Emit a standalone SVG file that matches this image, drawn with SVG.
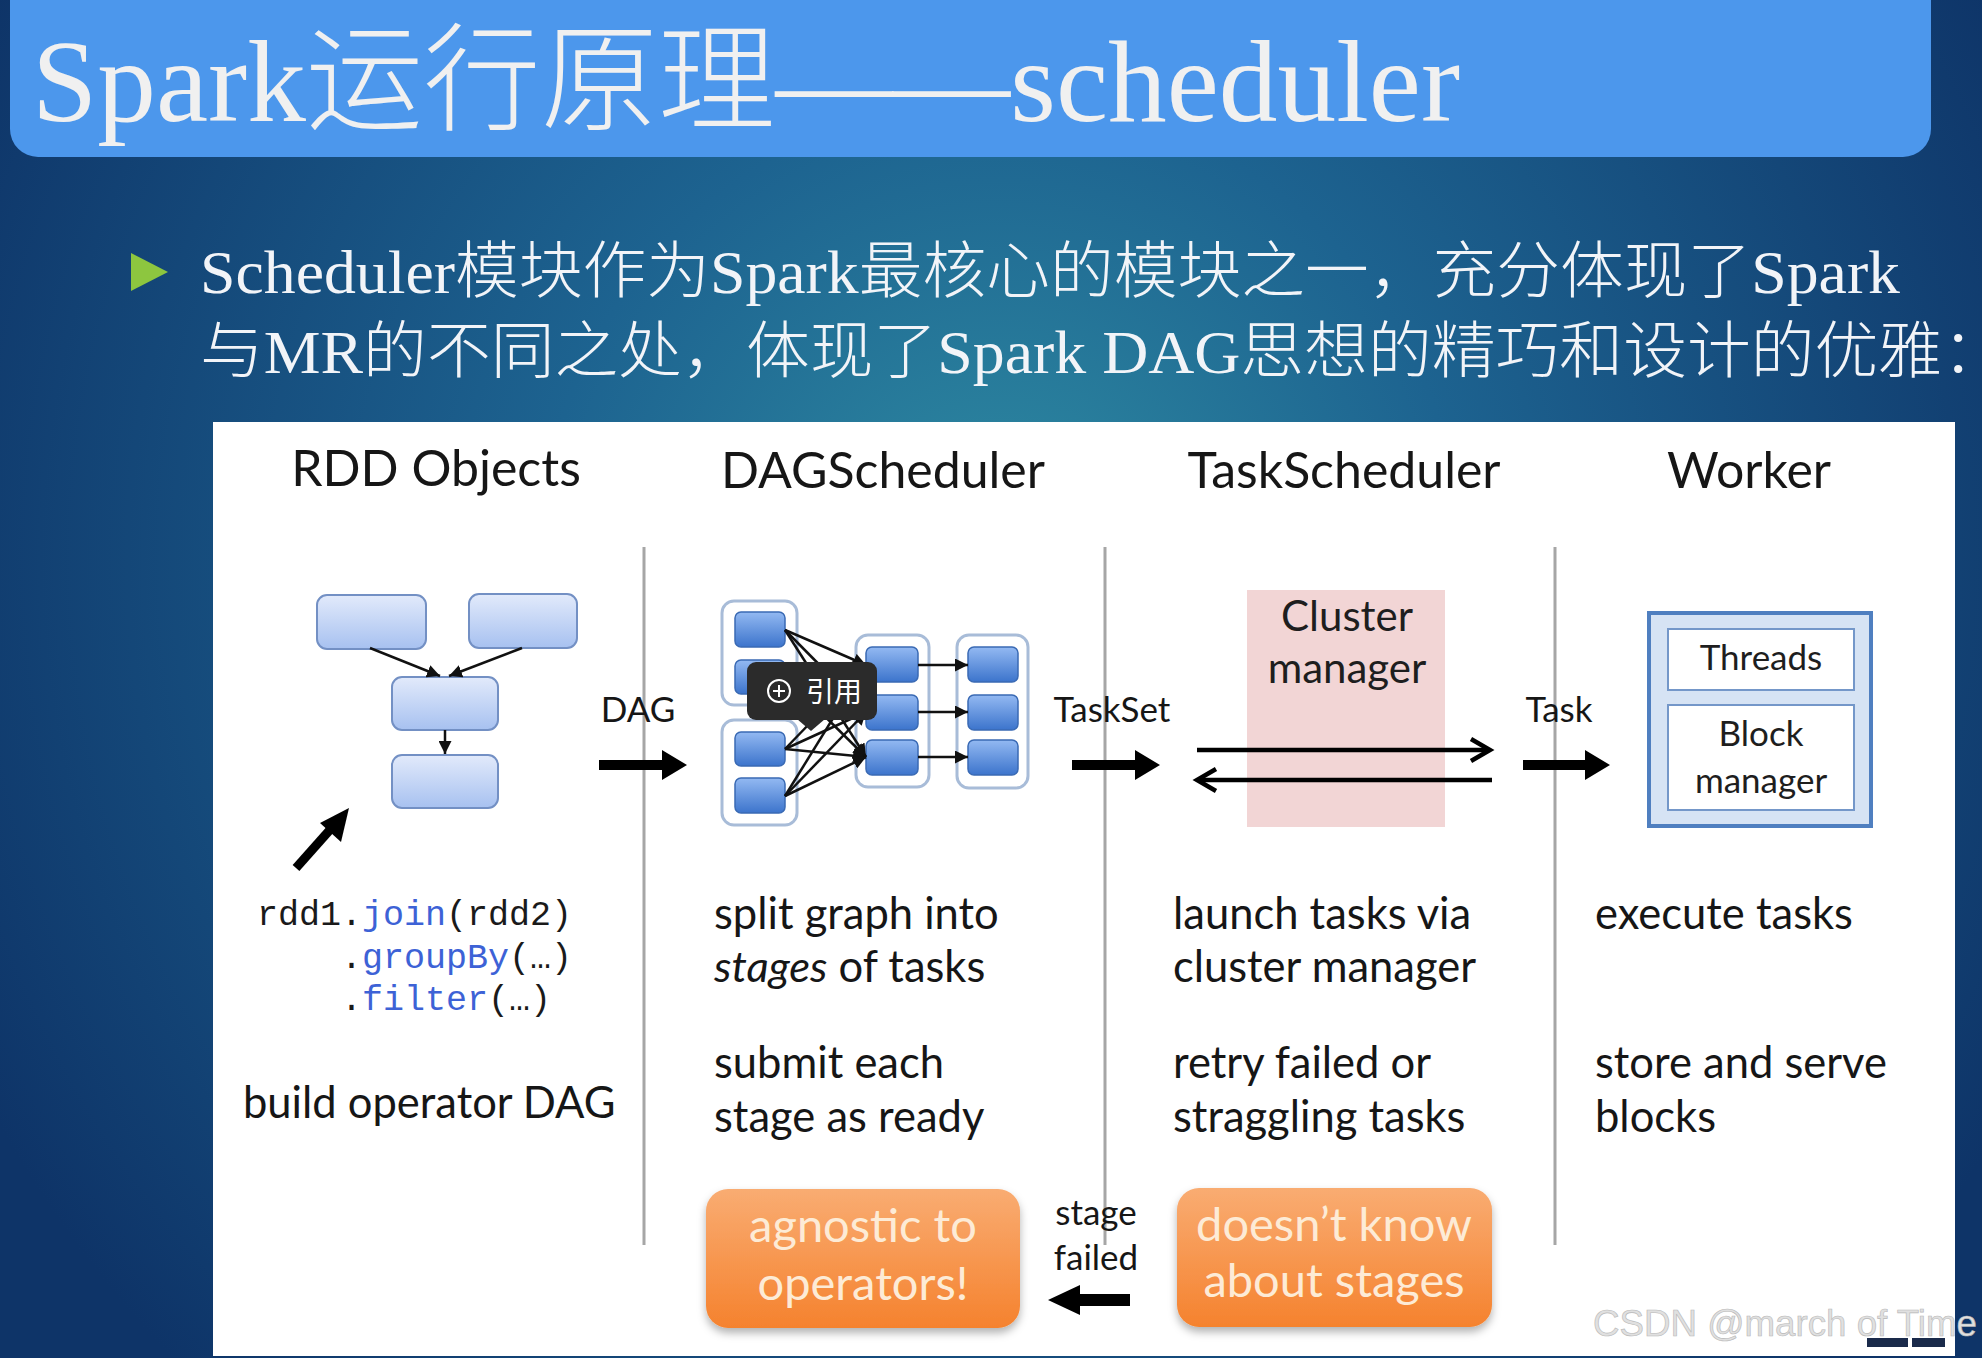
<svg xmlns="http://www.w3.org/2000/svg" width="1982" height="1358" viewBox="0 0 1982 1358">
<defs>
  <radialGradient id="bg" cx="1000" cy="560" r="1150" gradientUnits="userSpaceOnUse">
    <stop offset="0" stop-color="#2E8BA2"/>
    <stop offset="0.4" stop-color="#1D6390"/>
    <stop offset="1" stop-color="#0E3468"/>
  </radialGradient>
  <linearGradient id="rddFill" x1="0" y1="0" x2="0" y2="1">
    <stop offset="0" stop-color="#E2EAFB"/>
    <stop offset="1" stop-color="#A7C1F0"/>
  </linearGradient>
  <linearGradient id="taskFill" x1="0" y1="0" x2="0" y2="1">
    <stop offset="0" stop-color="#93B9F2"/>
    <stop offset="1" stop-color="#3C74CC"/>
  </linearGradient>
  <linearGradient id="orange" x1="0" y1="0" x2="0" y2="1">
    <stop offset="0" stop-color="#F9AC72"/>
    <stop offset="1" stop-color="#F5822E"/>
  </linearGradient>
  <filter id="shadow" x="-10%" y="-10%" width="120%" height="130%">
    <feDropShadow dx="0" dy="5" stdDeviation="4" flood-color="#000" flood-opacity="0.3"/>
  </filter>
  <marker id="ah" viewBox="0 0 10 10" refX="10" refY="5" markerWidth="13" markerHeight="13" markerUnits="userSpaceOnUse" orient="auto">
    <path d="M0,0 L10,5 L0,10 z" fill="#111"/>
  </marker>
</defs>
<style>
  .hdr { font-family: Lato, "Open Sans", sans-serif; font-size: 50px; fill: #161616; text-anchor: middle; }
  .desc { font-family: Lato, "Open Sans", sans-serif; font-size: 43.5px; fill: #161616; }
  .lbl { font-family: Lato, "Open Sans", sans-serif; font-size: 35px; fill: #161616; text-anchor: middle; }
  .inbox { font-family: Lato, "Open Sans", sans-serif; fill: #1E1E1E; text-anchor: middle; }
  .otxt { font-family: Lato, "Open Sans", sans-serif; font-size: 47px; fill: #FDEBD6; text-anchor: middle; }
  .code { font-family: "Liberation Mono", "DejaVu Sans Mono", monospace; font-size: 35px; fill: #1A1A1A; }
  .kw { fill: #3D62D6; }
  .rdd { fill: url(#rddFill); stroke: #7390C4; stroke-width: 2; }
  .task { fill: url(#taskFill); stroke: #3A6AB4; stroke-width: 1.5; }
  .cont { fill: #FFFFFF; stroke: #A8BCD8; stroke-width: 3; }
  .thin { stroke: #111; stroke-width: 2.5; fill: none; marker-end: url(#ah); }
  .thick { fill: #000; }
  .div { stroke: #A6A6A6; stroke-width: 3; }
  .serif { font-family: "Liberation Serif", "Noto Sans CJK SC", serif; }
  .cjk { font-family: "Noto Sans CJK SC", sans-serif; font-weight: 300; }
</style>

<rect x="0" y="0" width="1982" height="1358" fill="url(#bg)"/>

<g id="title">
  <rect x="10" y="-40" width="1921" height="197" rx="28" fill="#4C97EC"/>
  <text class="serif" x="32" y="121" font-size="117" fill="#F0F0F0" textLength="1428" lengthAdjust="spacingAndGlyphs">Spark<tspan class="cjk">运行原理</tspan>——scheduler</text>
</g>

<g id="bullet">
  <polygon points="131,253 168,272 131,291" fill="#8DC63F"/>
  <text class="serif" x="200" y="293" font-size="62" fill="#F2F4F8" textLength="1700" lengthAdjust="spacingAndGlyphs">Scheduler<tspan class="cjk">模块作为</tspan>Spark<tspan class="cjk">最核心的模块之一，充分体现了</tspan>Spark</text>
  <text class="serif" x="200" y="373" font-size="62" fill="#F2F4F8" textLength="1806" lengthAdjust="spacingAndGlyphs"><tspan class="cjk">与</tspan>MR<tspan class="cjk">的不同之处，体现了</tspan>Spark DAG<tspan class="cjk">思想的精巧和设计的优雅：</tspan></text>
</g>

<g id="panel">
  <rect x="213" y="422" width="1742" height="934" fill="#FFFFFF"/>
</g>

<g id="headers">
  <text class="hdr" x="436" y="486">RDD Objects</text>
  <text class="hdr" x="883" y="488">DAGScheduler</text>
  <text class="hdr" x="1344" y="488">TaskScheduler</text>
  <text class="hdr" x="1749" y="488">Worker</text>
</g>

<g id="dividers">
  <line class="div" x1="644" y1="547" x2="644" y2="1245"/>
  <line class="div" x1="1105" y1="547" x2="1105" y2="1245"/>
  <line class="div" x1="1555" y1="547" x2="1555" y2="1245"/>
</g>

<g id="rdd-objects">
  <rect class="rdd" x="317" y="595" width="109" height="54" rx="10"/>
  <rect class="rdd" x="469" y="594" width="108" height="54" rx="10"/>
  <rect class="rdd" x="392" y="677" width="106" height="53" rx="10"/>
  <rect class="rdd" x="392" y="755" width="106" height="53" rx="10"/>
  <text class="code" x="257" y="925">rdd1.<tspan class="kw">join</tspan>(rdd2)</text>
  <text class="code" x="341" y="968">.<tspan class="kw">groupBy</tspan>(…)</text>
  <text class="code" x="341" y="1010">.<tspan class="kw">filter</tspan>(…)</text>
  <text class="desc" x="243" y="1118">build operator DAG</text>
</g>

<g id="dag-scheduler">
  <rect class="cont" x="722" y="601" width="75" height="104" rx="12"/>
  <rect class="cont" x="722" y="720" width="75" height="105" rx="12"/>
  <rect class="cont" x="856" y="635" width="73" height="152" rx="12"/>
  <rect class="cont" x="957" y="635" width="71" height="153" rx="12"/>
  <rect class="task" x="735" y="612" width="50" height="35" rx="6"/>
  <rect class="task" x="735" y="660" width="50" height="34" rx="6"/>
  <rect class="task" x="735" y="732" width="50" height="34" rx="6"/>
  <rect class="task" x="735" y="778" width="50" height="35" rx="6"/>
  <rect class="task" x="866" y="647" width="52" height="35" rx="6"/>
  <rect class="task" x="866" y="695" width="52" height="35" rx="6"/>
  <rect class="task" x="866" y="740" width="52" height="35" rx="6"/>
  <rect class="task" x="968" y="647" width="50" height="35" rx="6"/>
  <rect class="task" x="968" y="695" width="50" height="35" rx="6"/>
  <rect class="task" x="968" y="740" width="50" height="35" rx="6"/>
  <text class="desc" x="714" y="929">split graph into</text>
  <text class="desc" x="714" y="982"><tspan font-style="italic">stages</tspan> of tasks</text>
  <text class="desc" x="714" y="1078">submit each</text>
  <text class="desc" x="714" y="1132">stage as ready</text>
</g>

<g id="task-scheduler">
  <rect x="1247" y="590" width="198" height="237" fill="#F2D5D5"/>
  <text class="inbox" x="1347" y="631" font-size="42">Cluster</text>
  <text class="inbox" x="1347" y="683" font-size="42">manager</text>
  <text class="desc" x="1173" y="929">launch tasks via</text>
  <text class="desc" x="1173" y="982">cluster manager</text>
  <text class="desc" x="1173" y="1078">retry failed or</text>
  <text class="desc" x="1173" y="1132">straggling tasks</text>
</g>

<g id="worker">
  <rect x="1649" y="613" width="222" height="213" fill="#D6E3F4" stroke="#4F7FC0" stroke-width="4"/>
  <rect x="1668" y="629" width="186" height="61" fill="#FFFFFF" stroke="#7497C9" stroke-width="2"/>
  <rect x="1668" y="705" width="186" height="105" fill="#FFFFFF" stroke="#7497C9" stroke-width="2"/>
  <text class="inbox" x="1761" y="670" font-size="35">Threads</text>
  <text class="inbox" x="1761" y="746" font-size="35">Block</text>
  <text class="inbox" x="1761" y="793" font-size="35">manager</text>
  <text class="desc" x="1595" y="929">execute tasks</text>
  <text class="desc" x="1595" y="1078">store and serve</text>
  <text class="desc" x="1595" y="1132">blocks</text>
</g>

<g id="agnostic">
  <rect x="706" y="1189" width="314" height="139" rx="22" fill="url(#orange)" filter="url(#shadow)"/>
  <text class="otxt" x="863" y="1242">agnostic to</text>
  <text class="otxt" x="863" y="1300">operators!</text>
</g>

<g id="doesnt-know">
  <rect x="1177" y="1188" width="315" height="139" rx="22" fill="url(#orange)" filter="url(#shadow)"/>
  <text class="otxt" x="1334" y="1241">doesn’t know</text>
  <text class="otxt" x="1334" y="1297">about stages</text>
</g>

<g id="connectors">
  <line class="thin" x1="370" y1="648" x2="440" y2="676"/>
  <line class="thin" x1="522" y1="648" x2="449" y2="676"/>
  <line class="thin" x1="445" y1="730" x2="445" y2="754"/>
  <line x1="296" y1="868" x2="336" y2="823" stroke="#000" stroke-width="9"/>
  <polygon points="349,808 341,842 320,823" fill="#000"/>
  <line class="thin" x1="785" y1="630" x2="866" y2="665"/>
  <line class="thin" x1="785" y1="630" x2="866" y2="712"/>
  <line class="thin" x1="785" y1="630" x2="866" y2="757"/>
  <line class="thin" x1="785" y1="677" x2="866" y2="665"/>
  <line class="thin" x1="785" y1="677" x2="866" y2="712"/>
  <line class="thin" x1="785" y1="677" x2="866" y2="757"/>
  <line class="thin" x1="785" y1="749" x2="866" y2="665"/>
  <line class="thin" x1="785" y1="749" x2="866" y2="712"/>
  <line class="thin" x1="785" y1="749" x2="866" y2="757"/>
  <line class="thin" x1="785" y1="796" x2="866" y2="665"/>
  <line class="thin" x1="785" y1="796" x2="866" y2="712"/>
  <line class="thin" x1="785" y1="796" x2="866" y2="757"/>
  <line class="thin" x1="918" y1="665" x2="968" y2="665"/>
  <line class="thin" x1="918" y1="712" x2="968" y2="712"/>
  <line class="thin" x1="918" y1="757" x2="968" y2="757"/>
  <text class="lbl" x="638" y="722">DAG</text>
  <path class="thick" d="M599,760 H662 V750 L687,765 L662,780 V770 H599 Z"/>
  <text class="lbl" x="1112" y="722">TaskSet</text>
  <path class="thick" d="M1072,760 H1135 V750 L1160,765 L1135,780 V770 H1072 Z"/>
  <text class="lbl" x="1559" y="722">Task</text>
  <path class="thick" d="M1523,760 H1585 V750 L1610,765 L1585,780 V770 H1523 Z"/>
  <line x1="1197" y1="750" x2="1488" y2="750" stroke="#000" stroke-width="4.5"/>
  <polyline points="1471,739 1490,750 1471,761" fill="none" stroke="#000" stroke-width="4.5"/>
  <line x1="1199" y1="780" x2="1492" y2="780" stroke="#000" stroke-width="4.5"/>
  <polyline points="1216,769 1197,780 1216,791" fill="none" stroke="#000" stroke-width="4.5"/>
  <text class="lbl" x="1096" y="1225" font-size="36">stage</text>
  <text class="lbl" x="1096" y="1270" font-size="36">failed</text>
  <path class="thick" d="M1130,1294 H1080 V1285 L1048,1300 L1080,1315 V1306 H1130 Z"/>
</g>

<g id="tooltip">
  <rect x="747" y="662" width="130" height="58" rx="9" fill="#2B2B2B"/>
  <polygon points="797,719 825,719 811,731" fill="#2B2B2B"/>
  <circle cx="779" cy="691" r="11" fill="none" stroke="#FFFFFF" stroke-width="2"/>
  <path d="M779,685 V697 M773,691 H785" stroke="#FFFFFF" stroke-width="2"/>
  <text x="806" y="702" font-family="Noto Sans CJK SC, sans-serif" font-size="28" fill="#FFFFFF">引用</text>
</g>

<g id="watermark">
  <text x="1593" y="1336" font-family="Liberation Sans, Arial, sans-serif" font-size="36" fill="#E0E0E0" stroke="#B8B8B8" stroke-width="0.6" textLength="384" lengthAdjust="spacingAndGlyphs">CSDN @march of Time</text>
  <rect x="1867" y="1338" width="41" height="9" fill="#1A2A4A"/>
  <rect x="1912" y="1338" width="33" height="9" fill="#1A2A4A"/>
</g>
</svg>
